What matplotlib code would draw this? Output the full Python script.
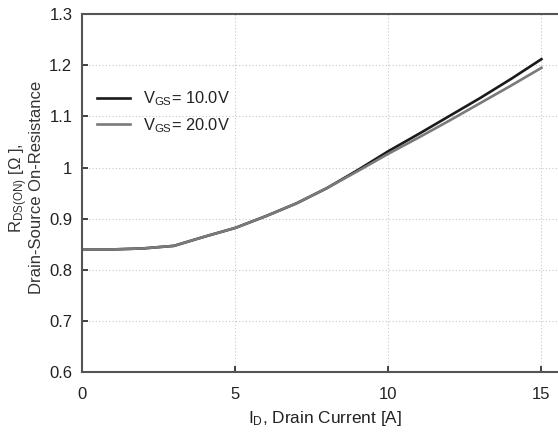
import matplotlib
matplotlib.use("Agg")
import matplotlib.pyplot as plt

fam = 'Liberation Sans'
plt.rcParams['font.family'] = [fam, 'DejaVu Sans']
plt.rcParams['mathtext.fontset'] = 'custom'
plt.rcParams['mathtext.rm'] = fam
plt.rcParams['mathtext.it'] = fam

current = [0, 1, 2, 3, 4, 5, 6, 7, 8, 9, 10, 11, 12, 13, 14, 15]
r_vgs10 = [0.840, 0.840, 0.842, 0.847, 0.865, 0.882, 0.905, 0.930, 0.960, 0.995,
           1.032, 1.066, 1.101, 1.136, 1.173, 1.212]
r_vgs20 = [0.840, 0.840, 0.842, 0.847, 0.865, 0.882, 0.905, 0.930, 0.960, 0.993,
           1.027, 1.059, 1.092, 1.126, 1.160, 1.195]
labels = ['V$_{\\mathrm{GS}}$= 10.0V', 'V$_{\\mathrm{GS}}$= 20.0V']
xticks = [0, 5, 10, 15]
yticks = [0.6, 0.7, 0.8, 0.9, 1.0, 1.1, 1.2, 1.3]
ytick_labels = ['0.6', '0.7', '0.8', '0.9', '1', '1.1', '1.2', '1.3']

fig = plt.figure(figsize=(5.58, 4.41), dpi=100)
ax = fig.add_axes([0.147, 0.156, 0.87, 0.812])
ax.plot(current, r_vgs10, color='#1a1a1a', lw=1.9, label=labels[0])
ax.plot(current, r_vgs20, color='#7a7a7a', lw=1.9, label=labels[1])
ax.set_xlim(0, 15.85)
ax.set_ylim(0.6, 1.3)
ax.set_xticks(xticks)
ax.set_yticks(yticks)
ax.set_yticklabels(ytick_labels)
ax.grid(True, color='#c8c8c8', linestyle=(0, (1, 2)), lw=0.8)
ax.tick_params(direction='in', length=4, width=1.2, labelsize=12, colors='#222222')
ax.tick_params(axis='x', pad=11)
ax.tick_params(axis='y', pad=7)
for s in ax.spines.values():
    s.set_color('#555555')
    s.set_linewidth(1.5)
ax.spines['right'].set_visible(False)

ax.set_xlabel('I$_{\\mathrm{D}}$, Drain Current [A]', fontsize=12.4, color='#222222', labelpad=5)
ax.set_ylabel('R$_{\\mathrm{DS(ON)}}$ [$\\Omega$ ],\nDrain-Source On-Resistance', fontsize=12,
              color='#333333', linespacing=0.9)
ax.yaxis.set_label_coords(-0.078, 0.515)

leg = ax.legend(loc='upper left', bbox_to_anchor=(0.0, 0.83), frameon=False,
                fontsize=11.8, handlelength=2.0, labelspacing=0.45, handletextpad=0.8)
for t in leg.get_texts():
    t.set_color('#222222')

fig.savefig('out.png', dpi=100)
